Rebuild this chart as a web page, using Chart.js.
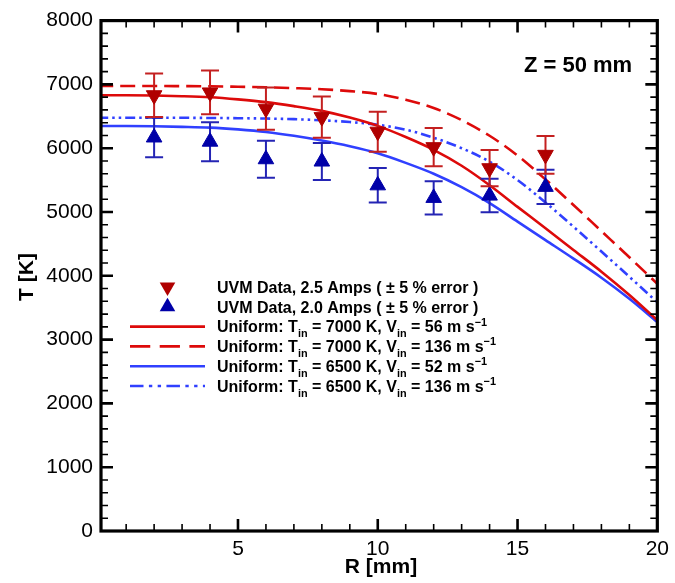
<!DOCTYPE html>
<html>
<head>
<meta charset="utf-8">
<script src="https://cdn.jsdelivr.net/npm/chart.js@4.4.1/dist/chart.umd.min.js"></script>
<style>
html,body{margin:0;padding:0;background:#fff;}
#wrap{width:675px;height:583px;}
</style>
</head>
<body>
<div id="wrap"><canvas id="c" width="675" height="583"></canvas></div>
<script>
// ---------- data ----------
const R_DATA = [2, 4, 6, 8, 10, 12, 14, 16];
const T_25A  = [6830, 6874, 6620, 6487, 6259, 6016, 5686, 5896];
const T_20A  = [6168, 6102, 5827, 5791, 5418, 5221, 5257, 5394];
const ERROR_PERCENT = 5;

const R_MODEL = [0, 1, 2, 3, 4, 5, 6, 7, 8, 9, 10, 11, 12, 13, 14, 15, 16, 17, 18, 19, 20];
const T_7000_V56  = [6830, 6829, 6825, 6815, 6798, 6765, 6722, 6660, 6585, 6480, 6350, 6175, 5975, 5725, 5420, 5080, 4745, 4405, 4065, 3700, 3305];
const T_7000_V136 = [6975, 6975, 6975, 6973, 6970, 6963, 6955, 6942, 6925, 6895, 6850, 6760, 6630, 6440, 6195, 5885, 5510, 5110, 4700, 4290, 3875];
const T_6500_V52  = [6348, 6347, 6343, 6335, 6323, 6295, 6255, 6195, 6120, 6030, 5920, 5770, 5600, 5390, 5140, 4850, 4560, 4270, 3970, 3640, 3275];
const T_6500_V136 = [6478, 6478, 6478, 6477, 6474, 6470, 6465, 6455, 6437, 6410, 6367, 6290, 6165, 6000, 5790, 5500, 5150, 4770, 4380, 3985, 3585];

const X_TICKS = [5, 10, 15, 20];
const Y_TICKS = [0, 1000, 2000, 3000, 4000, 5000, 6000, 7000, 8000];
const X_MINOR_STEP = 1;
const Y_MINOR_STEP = 200;
const X_RANGE = [0.1, 20];
const Y_RANGE = [0, 8000];

const LABELS = [
  'UVM Data, 2.5 Amps ( \u00B1 5 % error )',
  'UVM Data, 2.0 Amps ( \u00B1 5 % error )',
  'Uniform: T_{in} = 7000 K, V_{in} = 56 m s^{\u22121}',
  'Uniform: T_{in} = 7000 K, V_{in} = 136 m s^{\u22121}',
  'Uniform: T_{in} = 6500 K, V_{in} = 52 m s^{\u22121}',
  'Uniform: T_{in} = 6500 K, V_{in} = 136 m s^{\u22121}'
];
const ANNOTATION = 'Z = 50 mm';
const X_TITLE = 'R [mm]';
const Y_TITLE = 'T [K]';

// ---------- styles ----------
const RED_MARK = '#b00000', BLUE_MARK = '#0000a8';
const RED_LINE = '#dd0a0a', BLUE_LINE = '#3040ff';
const FONT = '"Liberation Sans", Arial, Helvetica, sans-serif';

const pts = (xs, ys) => xs.map((x, i) => ({x, y: ys[i]}));

const markerDs = (label, ys, color, rot, errColor) => ({
  label, data: pts(R_DATA, ys), showLine: false,
  pointStyle: 'triangle', rotation: rot, pointRadius: 9, pointHoverRadius: 9,
  backgroundColor: color, borderColor: color, borderWidth: 1,
  errorPercent: ERROR_PERCENT, errorColor: errColor
});
const lineDs = (label, ys, color, dash) => ({
  label, data: pts(R_MODEL, ys), showLine: true,
  borderColor: color, backgroundColor: color, borderWidth: 2.6,
  borderDash: dash, borderCapStyle: 'butt', pointRadius: 0, pointHoverRadius: 0,
  cubicInterpolationMode: 'monotone', fill: false
});

const datasets = [
  markerDs(LABELS[0], T_25A, RED_MARK, 180, '#c42020'),
  markerDs(LABELS[1], T_20A, BLUE_MARK, 0, '#2424b4'),
  lineDs(LABELS[2], T_7000_V56, RED_LINE, []),
  lineDs(LABELS[3], T_7000_V136, RED_LINE, [15, 7]),
  lineDs(LABELS[4], T_6500_V52, BLUE_LINE, []),
  lineDs(LABELS[5], T_6500_V136, BLUE_LINE, [10, 4, 2.5, 4, 2.5, 4])
];

// ---------- rich text ----------
function drawRich(ctx, text, x, y, size) {
  const parts = text.split(/(_\{[^}]*\}|\^\{[^}]*\})/).filter(s => s.length);
  let cx = x;
  for (const p of parts) {
    let t = p, fs = size, dy = 0;
    if (p.startsWith('_{')) { t = p.slice(2, -1); fs = size * 0.68; dy = size * 0.3; }
    else if (p.startsWith('^{')) { t = p.slice(2, -1); fs = size * 0.68; dy = -size * 0.42; }
    ctx.font = `bold ${fs}px ${FONT}`;
    ctx.fillText(t, cx, y + dy);
    cx += ctx.measureText(t).width;
  }
}

// ---------- plugins ----------
const errorBars = {
  id: 'errorBars',
  beforeDatasetDraw(chart, args) {
    const ds = chart.data.datasets[args.index];
    if (!ds.errorPercent) return;
    const {ctx} = chart, x = chart.scales.x, y = chart.scales.y;
    ctx.save();
    ctx.strokeStyle = ds.errorColor; ctx.lineWidth = 2;
    for (const p of ds.data) {
      const e = p.y * ds.errorPercent / 100;
      const px = x.getPixelForValue(p.x);
      const y1 = y.getPixelForValue(p.y + e), y2 = y.getPixelForValue(p.y - e);
      ctx.beginPath();
      ctx.moveTo(px, y1); ctx.lineTo(px, y2);
      ctx.moveTo(px - 9, y1); ctx.lineTo(px + 9, y1);
      ctx.moveTo(px - 9, y2); ctx.lineTo(px + 9, y2);
      ctx.stroke();
    }
    ctx.restore();
  }
};

const frame = {
  id: 'frame',
  afterDatasetsDraw(chart) {
    const {ctx, chartArea: a} = chart, x = chart.scales.x, y = chart.scales.y;
    ctx.save();
    ctx.strokeStyle = '#000';
    const hTick = (v, len, lw) => {
      const px = x.getPixelForValue(v);
      ctx.lineWidth = lw; ctx.beginPath();
      ctx.moveTo(px, a.bottom); ctx.lineTo(px, a.bottom - len);
      ctx.moveTo(px, a.top); ctx.lineTo(px, a.top + len);
      ctx.stroke();
    };
    const vTick = (v, len, lw) => {
      const py = y.getPixelForValue(v);
      ctx.lineWidth = lw; ctx.beginPath();
      ctx.moveTo(a.left, py); ctx.lineTo(a.left + len, py);
      ctx.moveTo(a.right, py); ctx.lineTo(a.right - len, py);
      ctx.stroke();
    };
    for (let v = Math.ceil(X_RANGE[0] / X_MINOR_STEP) * X_MINOR_STEP; v < X_RANGE[1]; v += X_MINOR_STEP) {
      if (!X_TICKS.includes(v)) hTick(v, 7, 1.6);
    }
    X_TICKS.forEach(v => { if (v < X_RANGE[1]) hTick(v, 12, 2.6); });
    for (let v = Y_RANGE[0] + Y_MINOR_STEP; v < Y_RANGE[1]; v += Y_MINOR_STEP) {
      if (!Y_TICKS.includes(v)) vTick(v, 7, 1.6);
    }
    Y_TICKS.forEach(v => { if (v > Y_RANGE[0] && v < Y_RANGE[1]) vTick(v, 12, 2.6); });
    ctx.lineWidth = 3.2;
    ctx.strokeRect(a.left, a.top, a.right - a.left, a.bottom - a.top);
    ctx.restore();
  }
};

const decorations = {
  id: 'decorations',
  afterDraw(chart) {
    const {ctx} = chart;
    ctx.save();
    ctx.fillStyle = '#000';
    // annotation
    ctx.font = `bold 22px ${FONT}`;
    ctx.textAlign = 'center'; ctx.textBaseline = 'middle';
    ctx.fillText(ANNOTATION, 578, 66);
    // axis titles
    ctx.font = `bold 21px ${FONT}`;
    ctx.fillText(X_TITLE, 381, 567);
    ctx.save();
    ctx.translate(27, 277); ctx.rotate(-Math.PI / 2);
    ctx.fillText(Y_TITLE, 0, 0);
    ctx.restore();
    // legend
    const sx1 = 130, sx2 = 205, tx = 217, cy0 = 287, step = 19.8;
    ctx.textAlign = 'left'; ctx.textBaseline = 'alphabetic';
    chart.data.datasets.forEach((ds, i) => {
      const cy = cy0 + i * step;
      if (ds.showLine) {
        ctx.save();
        ctx.strokeStyle = ds.borderColor; ctx.lineWidth = ds.borderWidth;
        ctx.setLineDash(ds.borderDash.length ? ds.borderDash.map(d => d * 1.35) : []);
        ctx.beginPath(); ctx.moveTo(sx1, cy); ctx.lineTo(sx2, cy); ctx.stroke();
        ctx.restore();
      } else {
        ctx.save();
        ctx.fillStyle = ds.backgroundColor;
        const r = 9, cxm = (sx1 + sx2) / 2, dir = ds.rotation === 180 ? -1 : 1;
        ctx.beginPath();
        ctx.moveTo(cxm, cy - dir * r);
        ctx.lineTo(cxm - r * 0.866, cy + dir * r / 2);
        ctx.lineTo(cxm + r * 0.866, cy + dir * r / 2);
        ctx.closePath(); ctx.fill();
        ctx.restore();
      }
      ctx.fillStyle = '#000';
      drawRich(ctx, ds.label, tx, cy + 5.8, 16);
    });
    ctx.restore();
  }
};

new Chart(document.getElementById('c'), {
  type: 'scatter',
  data: {datasets},
  options: {
    responsive: false, animation: false, devicePixelRatio: 1,
    layout: {padding: {left: 0, right: 15, top: 20, bottom: 0}},
    plugins: {legend: {display: false}, tooltip: {enabled: false}},
    scales: {
      x: {
        type: 'linear', position: 'bottom', min: X_RANGE[0], max: X_RANGE[1],
        grid: {display: false, drawTicks: false}, border: {display: false},
        afterBuildTicks: s => { s.ticks = X_TICKS.map(v => ({value: v})); },
        ticks: {color: '#000', font: {family: FONT, size: 21}, padding: 6, maxRotation: 0, autoSkip: false,
                callback: v => String(v)},
        afterFit: s => { s.height = 52; }
      },
      y: {
        type: 'linear', min: Y_RANGE[0], max: Y_RANGE[1],
        grid: {display: false, drawTicks: false}, border: {display: false},
        afterBuildTicks: s => { s.ticks = Y_TICKS.map(v => ({value: v})); },
        ticks: {color: '#000', font: {family: FONT, size: 21}, padding: 8, autoSkip: false,
                callback: v => String(v)},
        afterFit: s => { s.width = 101; }
      }
    }
  },
  plugins: [errorBars, frame, decorations]
});
</script>
</body>
</html>
